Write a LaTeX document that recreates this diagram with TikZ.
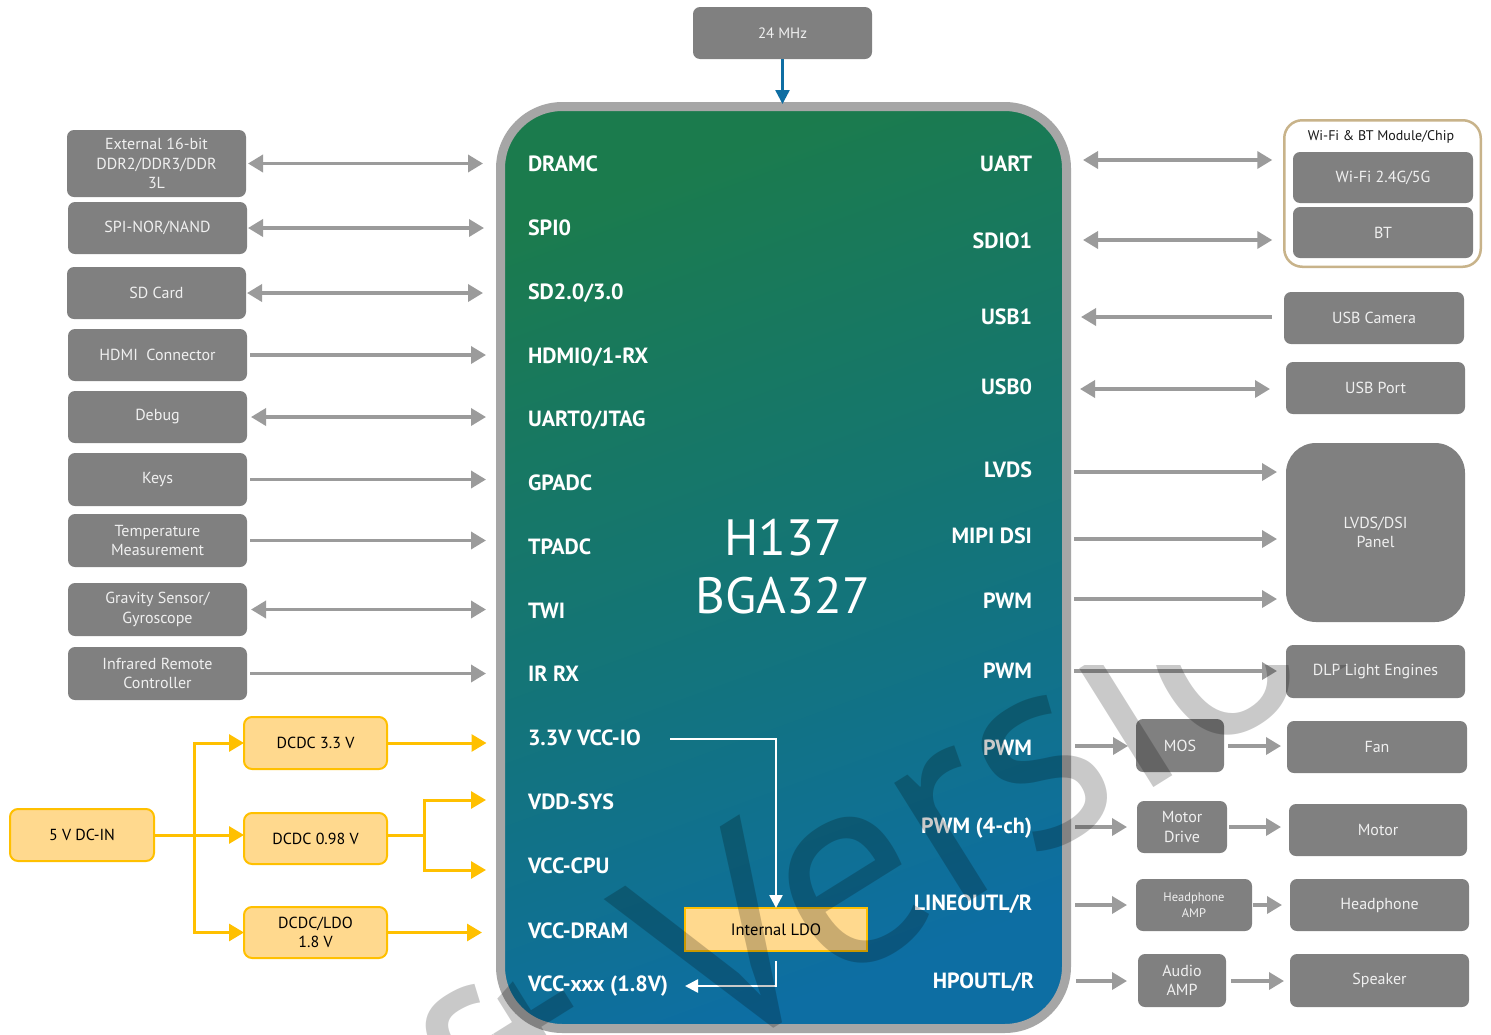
\documentclass[tikz,border=0pt]{standalone}
\usepackage{fontspec}
\setmainfont{PT Sans}
\usetikzlibrary{arrows.meta,calc}
\definecolor{boxgray}{HTML}{808080}
\definecolor{boxtxt}{HTML}{F0F0F0}
\definecolor{arrgray}{HTML}{9B9B9B}
\definecolor{chipborder}{HTML}{A6A6A6}
\definecolor{chiptop}{HTML}{1B7B4D}
\definecolor{chipmid}{HTML}{147575}
\definecolor{chipbot}{HTML}{0D6EA3}
\definecolor{pfill}{HTML}{FFD98E}
\definecolor{pline}{HTML}{FFC000}
\definecolor{clkblue}{HTML}{0E6EA3}
\definecolor{tanline}{HTML}{C8B38A}
\begin{document}
\begin{tikzpicture}[x=1pt,y=-1pt,
  gbox/.style={fill=boxgray, rounded corners=7pt, text=boxtxt, align=center, inner sep=0pt, outer sep=0pt, font=\fontsize{16}{19.5}\selectfont},
  pbox/.style={fill=pfill, draw=pline, line width=2pt, rounded corners=8pt, text=black, align=center, inner sep=0pt, outer sep=0pt, font=\fontsize{16}{19.5}\selectfont},
  lab/.style={text=white, inner sep=0pt, outer sep=0pt, text height=15.4pt, text depth=0pt, font=\bfseries\fontsize{22}{26}\selectfont},
  ttl/.style={text=white, inner sep=0pt, outer sep=0pt, text height=35.5pt, text depth=0pt, font=\fontsize{51}{56}\selectfont},
  garr/.style={draw=arrgray, line width=3.5pt, >={Triangle[length=15pt,width=17pt]}},
  yarr/.style={draw=pline, line width=3pt, >={Triangle[length=15pt,width=17pt]}},
  warr/.style={draw=white, line width=2.5pt, >={Triangle[length=13pt,width=13pt]}},
  barr/.style={draw=clkblue, line width=2.5pt, >={Triangle[length=14pt,width=14pt]}}
]
\useasboundingbox (0,0) rectangle (1491,1034);
\fill[white] (0,0) rectangle (1491,1034);

% chip
\node[draw=chipborder, line width=9pt, rounded corners=62pt, top color=chiptop, bottom color=chipbot, middle color=chipmid, shading angle=20, minimum width=566pt, minimum height=922pt, inner sep=0pt, outer sep=0pt] (chip) at (783.5,567.5) {};
\node[ttl] (t1) at (783,538) {H137};
\node[ttl] (t2) at (783,596) {BGA327};

% chip labels left
\node[lab,anchor=west] (lDRAMC) at (528,164) {DRAMC};
\node[lab,anchor=west] (lSPI) at (528,228) {SPI0};
\node[lab,anchor=west] (lSD) at (528,292) {SD2.0/3.0};
\node[lab,anchor=west] (lHDMI) at (528,356) {HDMI0/1-RX};
\node[lab,anchor=west] (lUART0) at (528,419) {UART0/JTAG};
\node[lab,anchor=west] (lGPADC) at (528,483) {GPADC};
\node[lab,anchor=west] (lTPADC) at (528,547) {TPADC};
\node[lab,anchor=west] (lTWI) at (528,611) {TWI};
\node[lab,anchor=west] (lIR) at (528,674) {IR RX};
\node[lab,anchor=west] (lVIO) at (528,738) {3.3V VCC-IO};
\node[lab,anchor=west] (lVSYS) at (528,802) {VDD-SYS};
\node[lab,anchor=west] (lVCPU) at (528,866) {VCC-CPU};
\node[lab,anchor=west] (lVDRAM) at (528,931) {VCC-DRAM};
\node[lab,anchor=west] (lVXXX) at (528,984) {VCC-xxx (1.8V)};
% chip labels right
\node[lab,anchor=east] (rUART) at (1032,164) {UART};
\node[lab,anchor=east] (rSDIO) at (1032,241) {SDIO1};
\node[lab,anchor=east] (rUSB1) at (1032,317) {USB1};
\node[lab,anchor=east] (rUSB0) at (1032,387) {USB0};
\node[lab,anchor=east] (rLVDS) at (1032,470) {LVDS};
\node[lab,anchor=east] (rMIPI) at (1032,536) {MIPI DSI};
\node[lab,anchor=east] (rPWMa) at (1032,601) {PWM};
\node[lab,anchor=east] (rPWMb) at (1032,671) {PWM};
\node[lab,anchor=east] (rPWMc) at (1032,748) {PWM};
\node[lab,anchor=east] (rPWMd) at (1032,826) {PWM (4-ch)};
\node[lab,anchor=east] (rLINE) at (1032,903) {LINEOUTL/R};
\node[lab,anchor=east] (rHP) at (1034,981) {HPOUTL/R};

% clock
\node[gbox, minimum width=179pt, minimum height=52pt, font=\fontsize{15}{18}\selectfont] (clk) at (782.5,33) {24 MHz};
\draw[barr,->,shorten >=2.5pt] (clk.south) -- (clk.south |- chip.north);

% left boxes
\node[gbox, minimum width=179pt, minimum height=67pt] (ddr) at (156.5,163.5) {External 16-bit\\DDR2/DDR3/DDR\\3L};
\node[gbox, minimum width=179pt, minimum height=52pt] (spi) at (157.5,228) {SPI-NOR/NAND};
\node[gbox, minimum width=179pt, minimum height=52pt] (sd) at (156.5,293) {SD Card};
\node[gbox, minimum width=179pt, minimum height=52pt] (hdmi) at (157.5,355) {HDMI\ \ Connector};
\node[gbox, minimum width=179pt, minimum height=52pt] (dbg) at (157.5,417) {Debug};
\node[gbox, minimum width=179pt, minimum height=53pt] (keys) at (157.5,479.5) {Keys};
\node[gbox, minimum width=179pt, minimum height=53pt] (temp) at (157.5,540.5) {Temperature\\Measurement};
\node[gbox, minimum width=179pt, minimum height=53pt] (grav) at (157.5,609.5) {Gravity Sensor/\\Gyroscope};
\node[gbox, minimum width=179pt, minimum height=53pt] (irr) at (157.5,673.5) {Infrared Remote\\Controller};

\draw[garr,<->,shorten <=2pt,shorten >=17.5pt] (ddr.east) -- (ddr.east -| chip.west);
\draw[garr,<->,shorten <=1pt,shorten >=16.5pt] (spi.east) -- (spi.east -| chip.west);
\draw[garr,<->,shorten <=1pt,shorten >=17.5pt] (sd.east) -- (sd.east -| chip.west);
\draw[garr,->,shorten <=3pt,shorten >=14.5pt] (hdmi.east) -- (hdmi.east -| chip.west);
\draw[garr,<->,shorten <=4pt,shorten >=14.5pt] (dbg.east) -- (dbg.east -| chip.west);
\draw[garr,->,shorten <=3pt,shorten >=14.5pt] (keys.east) -- (keys.east -| chip.west);
\draw[garr,->,shorten <=3pt,shorten >=14.5pt] (temp.east) -- (temp.east -| chip.west);
\draw[garr,<->,shorten <=4pt,shorten >=14.5pt] (grav.east) -- (grav.east -| chip.west);
\draw[garr,->,shorten <=3pt,shorten >=14.5pt] (irr.east) -- (irr.east -| chip.west);

% power
\node[pbox, minimum width=144pt, minimum height=52pt] (dcin) at (82,835) {5 V DC-IN};
\node[pbox, minimum width=143pt, minimum height=52pt] (d33) at (315.5,743) {DCDC 3.3 V};
\node[pbox, minimum width=143pt, minimum height=51pt] (d098) at (315.5,838.5) {DCDC 0.98 V};
\node[pbox, minimum width=143pt, minimum height=51pt] (dldo) at (315.5,932.5) {DCDC/LDO\\1.8 V};
\coordinate (bus) at (194,835);
\coordinate (spl) at (424,835);
\coordinate (tVS) at (486,800);
\coordinate (tVC) at (486,870);
\draw[yarr,->] (dcin.east) -- (dcin.east -| d098.west);
\draw[yarr,->] (bus) |- (d33.west);
\draw[yarr,->] (bus) |- (dldo.west);
\draw[yarr,->,shorten >=14pt] (d33.east) -- (d33.east -| chip.west);
\draw[yarr] (spl -| d098.east) -- (spl);
\draw[yarr,->] (spl) |- (tVS);
\draw[yarr,->] (spl) |- (tVC);
\draw[yarr,->,shorten >=18.5pt] (dldo.east) -- (dldo.east -| chip.west);

% internal LDO
\node[fill=pfill, draw=pline, line width=2pt, minimum width=182pt, minimum height=43pt, inner sep=0pt, outer sep=0pt, font=\fontsize{16.5}{19}\selectfont] (ldo) at (776,929.5) {Internal LDO};
\coordinate (wA) at (670,739);
\coordinate (wB) at (685,986);
\draw[warr,->] (wA) -| (ldo.north);
\draw[warr,->] ([yshift=-10pt]ldo.south) |- (wB);

% right side
\node[draw=tanline, line width=2.5pt, rounded corners=18pt, fill=white, minimum width=196.5pt, minimum height=146.5pt, inner sep=0pt, outer sep=0pt] (wcont) at (1382.5,193.5) {};
\node[inner sep=0pt, text=black!90, font=\fontsize{14}{16}\selectfont] (wtitle) at (1381,137) {Wi-Fi \& BT Module/Chip};
\node[gbox, minimum width=180pt, minimum height=51pt] (wifi) at (1383,177.5) {Wi-Fi 2.4G/5G};
\node[gbox, minimum width=180pt, minimum height=51pt] (bt) at (1383,232.5) {BT};
\node[gbox, minimum width=180pt, minimum height=52pt] (cam) at (1374,318) {USB Camera};
\node[gbox, minimum width=179pt, minimum height=52pt] (port) at (1375.5,388) {USB Port};
\node[gbox, rounded corners=30pt, minimum width=179pt, minimum height=179pt] (panel) at (1375.5,532.5) {LVDS/DSI\\Panel};
\node[gbox, minimum width=179pt, minimum height=53pt] (dlp) at (1375.5,671.5) {DLP Light Engines};
\node[gbox, minimum width=88pt, minimum height=53pt] (mos) at (1180,745.5) {MOS};
\node[gbox, minimum width=180pt, minimum height=52pt] (fan) at (1377,747) {Fan};
\node[gbox, minimum width=90pt, minimum height=52pt] (md) at (1182,827) {Motor\\Drive};
\node[gbox, minimum width=178pt, minimum height=52pt] (motor) at (1378,830) {Motor};
\node[gbox, minimum width=116pt, minimum height=52pt, font=\fontsize{12.5}{16}\selectfont] (ha) at (1194,905) {Headphone\\AMP};
\node[gbox, minimum width=179pt, minimum height=52pt] (hp) at (1379.5,905) {Headphone};
\node[gbox, minimum width=88pt, minimum height=53pt] (aa) at (1182,980.5) {Audio\\AMP};
\node[gbox, minimum width=179pt, minimum height=53pt] (spk) at (1379.5,980.5) {Speaker};

\coordinate (yUART) at (0,160);
\coordinate (ySDIO) at (0,240);
\coordinate (yUSB1) at (0,317);
\coordinate (yUSB0) at (0,389);
\coordinate (yLVDS) at (0,472);
\coordinate (yMIPI) at (0,539);
\coordinate (yPWMa) at (0,599);
\coordinate (yPWMb) at (0,671);
\coordinate (yPWMc) at (0,746);
\coordinate (yPWMd) at (0,827);
\coordinate (yLINE) at (0,905);
\coordinate (yHP) at (0,981);

\draw[garr,<->,shorten <=16.5pt,shorten >=12pt] (chip.east |- yUART) -- (wcont.west |- yUART);
\draw[garr,<->,shorten <=16.5pt,shorten >=12pt] (chip.east |- ySDIO) -- (wcont.west |- ySDIO);
\draw[garr,<-,shorten <=14.5pt,shorten >=12pt] (chip.east |- yUSB1) -- (cam.west |- yUSB1);
\draw[garr,<->,shorten <=13.5pt,shorten >=16pt] (chip.east |- yUSB0) -- (port.west |- yUSB0);
\draw[garr,->,shorten <=7.5pt,shorten >=9pt] (chip.east |- yLVDS) -- (panel.west |- yLVDS);
\draw[garr,->,shorten <=7.5pt,shorten >=9pt] (chip.east |- yMIPI) -- (panel.west |- yMIPI);
\draw[garr,->,shorten <=7.5pt,shorten >=9pt] (chip.east |- yPWMa) -- (panel.west |- yPWMa);
\draw[garr,->,shorten <=7.5pt,shorten >=9pt] (chip.east |- yPWMb) -- (dlp.west |- yPWMb);
\draw[garr,->,shorten <=8.5pt,shorten >=8pt] (chip.east |- yPWMc) -- (mos.west |- yPWMc);
\draw[garr,->,shorten <=4pt,shorten >=6pt] (mos.east |- yPWMc) -- (fan.west |- yPWMc);
\draw[garr,->,shorten <=8.5pt,shorten >=10pt] (chip.east |- yPWMd) -- (md.west |- yPWMd);
\draw[garr,->,shorten <=2pt,shorten >=8pt] (md.east |- yPWMd) -- (motor.west |- yPWMd);
\draw[garr,->,shorten <=8.5pt,shorten >=9pt] (chip.east |- yLINE) -- (ha.west |- yLINE);
\draw[garr,->,shorten <=1pt,shorten >=8pt] (ha.east |- yLINE) -- (hp.west |- yLINE);
\draw[garr,->,shorten <=9.5pt,shorten >=11pt] (chip.east |- yHP) -- (aa.west |- yHP);
\draw[garr,->,shorten <=5pt,shorten >=6pt] (aa.east |- yHP) -- (spk.west |- yHP);

% watermark
\begin{scope}
\clip (0,665) rectangle (1491,1034);
\node[rotate=32, anchor=base west, inner sep=0pt, outer sep=0pt, text=black, text opacity=0.21, font=\fontsize{280}{280}\selectfont] (wm) at (709,1065) {\llap{Draft }Version};
\end{scope}
\end{tikzpicture}
\end{document}
